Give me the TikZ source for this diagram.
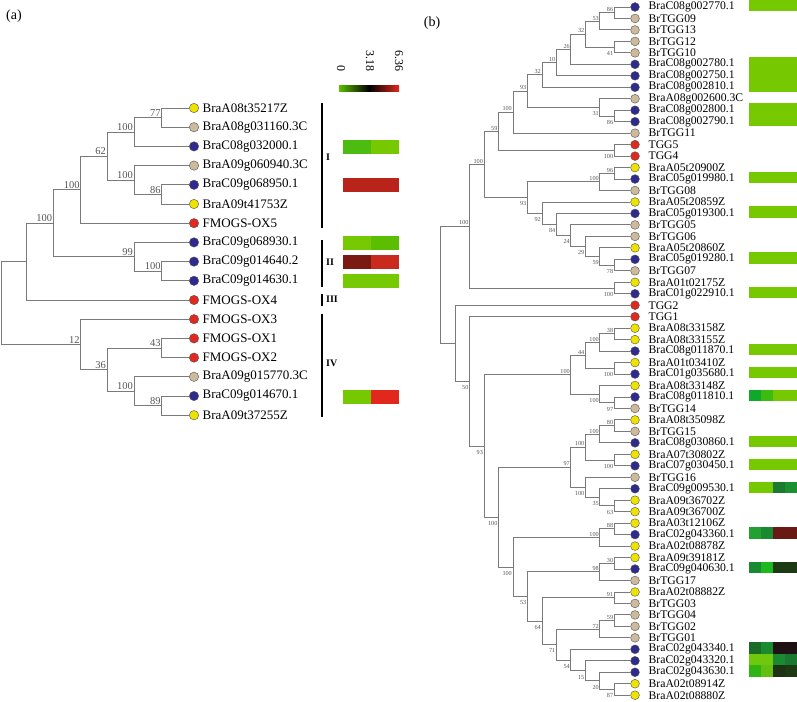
\documentclass[tikz,border=0pt]{standalone}
\usepackage{fontspec}
\setmainfont{Liberation Serif}
\usepackage{tikz}
\usetikzlibrary{shapes}
\definecolor{treegray}{HTML}{7A7A7A}
\definecolor{bootgray}{HTML}{555555}
\definecolor{dotline}{HTML}{505050}
\definecolor{dotyellow}{HTML}{EEE200}
\definecolor{dottan}{HTML}{CDBA9C}
\definecolor{dotblue}{HTML}{2E2A8E}
\definecolor{dotred}{HTML}{DF2A20}
\definecolor{hmlight}{HTML}{76C800}
\definecolor{hmmid}{HTML}{4CBC10}
\definecolor{hmlime}{HTML}{5CBE00}
\definecolor{hmred}{HTML}{E2281C}
\definecolor{hmbrick}{HTML}{B8231A}
\definecolor{hmmaroon}{HTML}{7A1A12}
\definecolor{hmscarlet}{HTML}{C82A1E}
\definecolor{hmgrass}{HTML}{10A82A}
\definecolor{hmleaf}{HTML}{3CBB10}
\definecolor{hmforest}{HTML}{1C7A30}
\definecolor{hmjade}{HTML}{1A9030}
\definecolor{hmemerald}{HTML}{22A030}
\definecolor{hmpine}{HTML}{1A8A30}
\definecolor{hmrust}{HTML}{6A1A14}
\definecolor{hmvivid}{HTML}{1CB820}
\definecolor{hmmoss}{HTML}{1E3A14}
\definecolor{hmdeep}{HTML}{1A6A28}
\definecolor{hmnight}{HTML}{201212}
\definecolor{hmspring}{HTML}{70C80C}
\definecolor{hmfern}{HTML}{1A7830}
\definecolor{hmclover}{HTML}{30B414}
\definecolor{hmapple}{HTML}{64C010}
\definecolor{hmshade}{HTML}{1E3214}
\tikzstyle{branch} = [draw=treegray, line width=0.9pt]
\tikzstyle{clade} = [draw=black, line width=1.6pt]
\tikzstyle{dotA} = [circle, draw=dotline, line width=0.4pt, inner sep=0pt, minimum size=9.4pt]
\tikzstyle{dotB} = [circle, draw=dotline, line width=0.4pt, inner sep=0pt, minimum size=8.8pt]
\tikzstyle{ylwA} = [dotA, fill=dotyellow]
\tikzstyle{tanA} = [dotA, fill=dottan]
\tikzstyle{bluA} = [dotA, fill=dotblue]
\tikzstyle{redA} = [dotA, fill=dotred]
\tikzstyle{ylwB} = [dotB, fill=dotyellow]
\tikzstyle{tanB} = [dotB, fill=dottan]
\tikzstyle{bluB} = [dotB, fill=dotblue]
\tikzstyle{redB} = [dotB, fill=dotred]
\tikzstyle{nameA} = [font=\fontsize{13}{15}\selectfont, inner sep=3.6pt]
\tikzstyle{nameB} = [font=\fontsize{11.7}{13}\selectfont, inner sep=1pt, xshift=7.8pt]
\tikzstyle{bootA} = [font=\fontsize{10.5}{12}\selectfont, text=bootgray, inner sep=1pt, anchor=south east]
\tikzstyle{bsup} = [font=\fontsize{6.2}{7}\selectfont, text=bootgray, inner sep=1pt, anchor=south east]
\tikzstyle{bsdn} = [font=\fontsize{6.2}{7}\selectfont, text=bootgray, inner sep=1pt, anchor=north east, yshift=-3pt]
\tikzstyle{cladelbl} = [font=\bfseries\fontsize{10}{12}\selectfont, inner sep=0pt, anchor=west]
\tikzstyle{scalelbl} = [font=\fontsize{12}{14}\selectfont, rotate=-90, anchor=east, inner sep=0pt]
\tikzstyle{panel} = [font=\fontsize{14}{16}\selectfont, inner sep=0pt]

\begin{document}
\begin{tikzpicture}[x=1pt, y=-1pt]
    \useasboundingbox (0,0) rectangle (797,701);
    \node [panel] (pa) at (14,16) {(a)};
    \node [panel] (pb) at (432,23) {(b)};

    % (a) leaves
    \node [ylwA, label={[nameA]right:BraA08t35217Z}] (a1) at (194,108) {};
    \node [tanA, label={[nameA]right:BraA08g031160.3C}] (a2) at (194,127.2) {};
    \node [bluA, label={[nameA]right:BraC08g032000.1}] (a3) at (194,146.4) {};
    \node [tanA, label={[nameA]right:BraA09g060940.3C}] (a4) at (194,165.6) {};
    \node [bluA, label={[nameA]right:BraC09g068950.1}] (a5) at (194,184.8) {};
    \node [ylwA, label={[nameA]right:BraA09t41753Z}] (a6) at (194,204) {};
    \node [redA, label={[nameA]right:FMOGS-OX5}] (a7) at (194,223.2) {};
    \node [bluA, label={[nameA]right:BraC09g068930.1}] (a8) at (194,242.4) {};
    \node [bluA, label={[nameA]right:BraC09g014640.2}] (a9) at (194,261.6) {};
    \node [bluA, label={[nameA]right:BraC09g014630.1}] (a10) at (194,280.8) {};
    \node [redA, label={[nameA]right:FMOGS-OX4}] (a11) at (194,300) {};
    \node [redA, label={[nameA]right:FMOGS-OX3}] (a12) at (194,319.2) {};
    \node [redA, label={[nameA]right:FMOGS-OX1}] (a13) at (194,338.4) {};
    \node [redA, label={[nameA]right:FMOGS-OX2}] (a14) at (194,357.6) {};
    \node [tanA, label={[nameA]right:BraA09g015770.3C}] (a15) at (194,376.8) {};
    \node [bluA, label={[nameA]right:BraC09g014670.1}] (a16) at (194,396) {};
    \node [ylwA, label={[nameA]right:BraA09t37255Z}] (a17) at (194,415.2) {};

    % (a) inner nodes
    \coordinate (na77) at (161.7,117.6);
    \coordinate (na100p) at (134,132);
    \coordinate (na86) at (161.7,194.4);
    \coordinate (na100q) at (134,180);
    \coordinate (na62) at (107,156);
    \coordinate (na100r) at (80.7,189.6);
    \coordinate (na100s) at (161.7,271.2);
    \coordinate (na99) at (134,256.8);
    \coordinate (na100t) at (53.3,223.2);
    \coordinate (naIn) at (26.7,261.6);
    \coordinate (na43) at (161.7,348);
    \coordinate (na89) at (161.7,405.6);
    \coordinate (na100u) at (134,391.2);
    \coordinate (na36) at (107,369.6);
    \coordinate (na12) at (80.7,344.4);
    \coordinate (naroot) at (1,303);

    \path [branch] (naroot) |- (naIn) (naroot) |- (na12);
    \path [branch] (naIn) |- (na100t) (naIn) |- (a11);
    \path [branch] (na100t) |- (na100r) (na100t) |- (na99);
    \path [branch] (na100r) |- (na62) (na100r) |- (a7);
    \path [branch] (na62) |- (na100p) (na62) |- (na100q);
    \path [branch] (na100p) |- (na77) (na100p) |- (a3);
    \path [branch] (na77) |- (a1) (na77) |- (a2);
    \path [branch] (na100q) |- (a4) (na100q) |- (na86);
    \path [branch] (na86) |- (a5) (na86) |- (a6);
    \path [branch] (na99) |- (a8) (na99) |- (na100s);
    \path [branch] (na100s) |- (a9) (na100s) |- (a10);
    \path [branch] (na12) |- (a12) (na12) |- (na36);
    \path [branch] (na36) |- (na43) (na36) |- (na100u);
    \path [branch] (na43) |- (a13) (na43) |- (a14);
    \path [branch] (na100u) |- (a15) (na100u) |- (na89);
    \path [branch] (na89) |- (a16) (na89) |- (a17);

    \node [bootA] (ta77) at (na77) {77};
    \node [bootA] (ta100p) at (na100p) {100};
    \node [bootA] (ta86) at (na86) {86};
    \node [bootA] (ta100q) at (na100q) {100};
    \node [bootA] (ta62) at (na62) {62};
    \node [bootA] (ta100r) at (na100r) {100};
    \node [bootA] (ta100s) at (na100s) {100};
    \node [bootA] (ta99) at (na99) {99};
    \node [bootA] (ta100t) at (na100t) {100};
    \node [bootA] (ta43) at (na43) {43};
    \node [bootA] (ta89) at (na89) {89};
    \node [bootA] (ta100u) at (na100u) {100};
    \node [bootA] (ta36) at (na36) {36};
    \node [bootA] (ta12) at (na12) {12};

    % (a) groups
    \draw [clade] (322,103) -- (322,228);
    \draw [clade] (322,240) -- (322,287);
    \draw [clade] (322,294) -- (322,306);
    \draw [clade] (322,314) -- (322,417);
    \node [cladelbl] (gI) at (326,157) {I};
    \node [cladelbl] (gII) at (326,262) {II};
    \node [cladelbl] (gIII) at (326,299) {III};
    \node [cladelbl] (gIV) at (326,363) {IV};

    % (a) scale and heat map
    \shade [left color=hmlime, right color=hmred, middle color=black] (339,85) rectangle (399,91);
    \node [scalelbl] (s0) at (341,72) {0};
    \node [scalelbl] (s1) at (370,72) {3.18};
    \node [scalelbl] (s2) at (399,72) {6.36};
    \fill [hmmid] (343,139.9) rectangle (371,153.9);
    \fill [hmlight] (371,139.9) rectangle (399,153.9);
    \fill [hmbrick] (343,178.3) rectangle (399,192.3);
    \fill [hmlight] (343,235.9) rectangle (371,249.9);
    \fill [hmlime] (371,235.9) rectangle (399,249.9);
    \fill [hmmaroon] (343,255.1) rectangle (371,269.1);
    \fill [hmscarlet] (371,255.1) rectangle (399,269.1);
    \fill [hmlight] (343,274.3) rectangle (399,288.3);
    \fill [hmlight] (343,389.5) rectangle (371,403.5);
    \fill [hmred] (371,389.5) rectangle (399,403.5);

    % (b) leaves
    \node [bluB, label={[nameB]right:BraC08g002770.1}] (b1) at (635,7) {};
    \node [tanB, label={[nameB]right:BrTGG09}] (b2) at (635,18.47) {};
    \node [tanB, label={[nameB]right:BrTGG13}] (b3) at (635,29.94) {};
    \node [tanB, label={[nameB]right:BrTGG12}] (b4) at (635,41.41) {};
    \node [tanB, label={[nameB]right:BrTGG10}] (b5) at (635,52.88) {};
    \node [bluB, label={[nameB]right:BraC08g002780.1}] (b6) at (635,64.35) {};
    \node [bluB, label={[nameB]right:BraC08g002750.1}] (b7) at (635,75.82) {};
    \node [bluB, label={[nameB]right:BraC08g002810.1}] (b8) at (635,87.29) {};
    \node [tanB, label={[nameB]right:BraA08g002600.3C}] (b9) at (635,98.76) {};
    \node [bluB, label={[nameB]right:BraC08g002800.1}] (b10) at (635,110.23) {};
    \node [bluB, label={[nameB]right:BraC08g002790.1}] (b11) at (635,121.7) {};
    \node [tanB, label={[nameB]right:BrTGG11}] (b12) at (635,133.17) {};
    \node [redB, label={[nameB]right:TGG5}] (b13) at (635,144.64) {};
    \node [redB, label={[nameB]right:TGG4}] (b14) at (635,156.11) {};
    \node [ylwB, label={[nameB]right:BraA05t20900Z}] (b15) at (635,167.58) {};
    \node [bluB, label={[nameB]right:BraC05g019980.1}] (b16) at (635,179.05) {};
    \node [tanB, label={[nameB]right:BrTGG08}] (b17) at (635,190.52) {};
    \node [ylwB, label={[nameB]right:BraA05t20859Z}] (b18) at (635,201.99) {};
    \node [bluB, label={[nameB]right:BraC05g019300.1}] (b19) at (635,213.46) {};
    \node [tanB, label={[nameB]right:BrTGG05}] (b20) at (635,224.93) {};
    \node [tanB, label={[nameB]right:BrTGG06}] (b21) at (635,236.4) {};
    \node [ylwB, label={[nameB]right:BraA05t20860Z}] (b22) at (635,247.87) {};
    \node [bluB, label={[nameB]right:BraC05g019280.1}] (b23) at (635,259.34) {};
    \node [tanB, label={[nameB]right:BrTGG07}] (b24) at (635,270.81) {};
    \node [ylwB, label={[nameB]right:BraA01t02175Z}] (b25) at (635,282.28) {};
    \node [bluB, label={[nameB]right:BraC01g022910.1}] (b26) at (635,293.75) {};
    \node [redB, label={[nameB]right:TGG2}] (b27) at (635,305.22) {};
    \node [redB, label={[nameB]right:TGG1}] (b28) at (635,316.69) {};
    \node [ylwB, label={[nameB]right:BraA08t33158Z}] (b29) at (635,328.16) {};
    \node [ylwB, label={[nameB]right:BraA08t33155Z}] (b30) at (635,339.63) {};
    \node [bluB, label={[nameB]right:BraC08g011870.1}] (b31) at (635,351.1) {};
    \node [ylwB, label={[nameB]right:BraA01t03410Z}] (b32) at (635,362.57) {};
    \node [bluB, label={[nameB]right:BraC01g035680.1}] (b33) at (635,374.04) {};
    \node [ylwB, label={[nameB]right:BraA08t33148Z}] (b34) at (635,385.51) {};
    \node [bluB, label={[nameB]right:BraC08g011810.1}] (b35) at (635,396.98) {};
    \node [tanB, label={[nameB]right:BrTGG14}] (b36) at (635,408.45) {};
    \node [ylwB, label={[nameB]right:BraA08t35098Z}] (b37) at (635,419.92) {};
    \node [tanB, label={[nameB]right:BrTGG15}] (b38) at (635,431.39) {};
    \node [bluB, label={[nameB]right:BraC08g030860.1}] (b39) at (635,442.86) {};
    \node [ylwB, label={[nameB]right:BraA07t30802Z}] (b40) at (635,454.33) {};
    \node [bluB, label={[nameB]right:BraC07g030450.1}] (b41) at (635,465.8) {};
    \node [tanB, label={[nameB]right:BrTGG16}] (b42) at (635,477.27) {};
    \node [bluB, label={[nameB]right:BraC09g009530.1}] (b43) at (635,488.74) {};
    \node [ylwB, label={[nameB]right:BraA09t36702Z}] (b44) at (635,500.21) {};
    \node [ylwB, label={[nameB]right:BraA09t36700Z}] (b45) at (635,511.68) {};
    \node [ylwB, label={[nameB]right:BraA03t12106Z}] (b46) at (635,523.15) {};
    \node [bluB, label={[nameB]right:BraC02g043360.1}] (b47) at (635,534.62) {};
    \node [ylwB, label={[nameB]right:BraA02t08878Z}] (b48) at (635,546.09) {};
    \node [ylwB, label={[nameB]right:BraA09t39181Z}] (b49) at (635,557.56) {};
    \node [bluB, label={[nameB]right:BraC09g040630.1}] (b50) at (635,569.03) {};
    \node [tanB, label={[nameB]right:BrTGG17}] (b51) at (635,580.5) {};
    \node [ylwB, label={[nameB]right:BraA02t08882Z}] (b52) at (635,591.97) {};
    \node [tanB, label={[nameB]right:BrTGG03}] (b53) at (635,603.44) {};
    \node [tanB, label={[nameB]right:BrTGG04}] (b54) at (635,614.91) {};
    \node [tanB, label={[nameB]right:BrTGG02}] (b55) at (635,626.38) {};
    \node [tanB, label={[nameB]right:BrTGG01}] (b56) at (635,637.85) {};
    \node [bluB, label={[nameB]right:BraC02g043340.1}] (b57) at (635,649.32) {};
    \node [bluB, label={[nameB]right:BraC02g043320.1}] (b58) at (635,660.79) {};
    \node [bluB, label={[nameB]right:BraC02g043630.1}] (b59) at (635,672.26) {};
    \node [ylwB, label={[nameB]right:BraA02t08914Z}] (b60) at (635,683.73) {};
    \node [ylwB, label={[nameB]right:BraA02t08880Z}] (b61) at (635,695.2) {};

    % (b) inner nodes
    \coordinate (nb86a) at (614.3,12.74);
    \coordinate (nb53a) at (599.9,21.34);
    \coordinate (nb41) at (614.3,47.15);
    \coordinate (nb32a) at (585.4,34.24);
    \coordinate (nb26) at (570.9,49.3);
    \coordinate (nb10) at (556.5,62.56);
    \coordinate (nb32b) at (542,74.93);
    \coordinate (nb86b) at (614.3,115.97);
    \coordinate (nb31) at (599.9,107.37);
    \coordinate (nb93a) at (527.5,91.15);
    \coordinate (nb100a) at (513,112.16);
    \coordinate (nb100b) at (614.3,150.38);
    \coordinate (nb59a) at (498.6,131.27);
    \coordinate (nb96) at (614.3,173.32);
    \coordinate (nb100c) at (599.9,181.92);
    \coordinate (nb78) at (614.3,265.08);
    \coordinate (nb59b) at (599.9,256.48);
    \coordinate (nb29) at (585.4,246.44);
    \coordinate (nb24) at (570.9,235.69);
    \coordinate (nb84) at (556.5,224.58);
    \coordinate (nb92) at (542,213.29);
    \coordinate (nb93b) at (527.5,197.61);
    \coordinate (nb100d) at (484.1,164.44);
    \coordinate (nb100e) at (614.3,288.02);
    \coordinate (nb100f) at (469.6,226.23);
    \coordinate (nb38) at (614.3,333.9);
    \coordinate (nb100g) at (599.9,342.5);
    \coordinate (nb100h) at (614.3,368.31);
    \coordinate (nb44) at (585.4,355.4);
    \coordinate (nb97a) at (614.3,402.72);
    \coordinate (nb100i) at (599.9,394.11);
    \coordinate (nb100j) at (570.9,374.76);
    \coordinate (nb80) at (614.3,425.66);
    \coordinate (nb100k) at (599.9,434.26);
    \coordinate (nb100l) at (614.3,460.07);
    \coordinate (nb100m) at (585.4,447.16);
    \coordinate (nb63) at (614.3,505.94);
    \coordinate (nb35) at (599.9,497.34);
    \coordinate (nb100n) at (585.4,487.3);
    \coordinate (nb97b) at (570.9,467.23);
    \coordinate (nb88) at (614.3,528.88);
    \coordinate (nb100o) at (599.9,537.48);
    \coordinate (nb30) at (614.3,563.3);
    \coordinate (nb98) at (599.9,571.9);
    \coordinate (nb91) at (614.3,597.7);
    \coordinate (nb59c) at (614.3,620.65);
    \coordinate (nb72) at (599.9,629.25);
    \coordinate (nb87) at (614.3,689.47);
    \coordinate (nb20) at (599.9,680.87);
    \coordinate (nb15) at (585.4,670.83);
    \coordinate (nb54) at (570.9,660.08);
    \coordinate (nb71) at (556.5,644.67);
    \coordinate (nb64) at (542,621.19);
    \coordinate (nb53b) at (527.5,596.55);
    \coordinate (nb100p) at (513,567.02);
    \coordinate (nb100q) at (498.6,517.13);
    \coordinate (nb93c) at (484.1,445.95);
    \coordinate (nb50) at (469.6,381.32);
    \coordinate (nbIn) at (455.2,343.27);
    \coordinate (nbroot) at (440.7,284.75);

    \path [branch] (nbroot) |- (nb100f) (nbroot) |- (nbIn);
    \path [branch] (nb100f) |- (nb100d) (nb100f) |- (nb100e);
    \path [branch] (nb100d) |- (nb59a) (nb100d) |- (nb93b);
    \path [branch] (nb59a) |- (nb100a) (nb59a) |- (nb100b);
    \path [branch] (nb100a) |- (nb93a) (nb100a) |- (b12);
    \path [branch] (nb93a) |- (nb32b) (nb93a) |- (nb31);
    \path [branch] (nb32b) |- (nb10) (nb32b) |- (b8);
    \path [branch] (nb10) |- (nb26) (nb10) |- (b7);
    \path [branch] (nb26) |- (nb32a) (nb26) |- (b6);
    \path [branch] (nb32a) |- (nb53a) (nb32a) |- (nb41);
    \path [branch] (nb53a) |- (nb86a) (nb53a) |- (b3);
    \path [branch] (nb86a) |- (b1) (nb86a) |- (b2);
    \path [branch] (nb41) |- (b4) (nb41) |- (b5);
    \path [branch] (nb31) |- (b9) (nb31) |- (nb86b);
    \path [branch] (nb86b) |- (b10) (nb86b) |- (b11);
    \path [branch] (nb100b) |- (b13) (nb100b) |- (b14);
    \path [branch] (nb93b) |- (nb100c) (nb93b) |- (nb92);
    \path [branch] (nb100c) |- (nb96) (nb100c) |- (b17);
    \path [branch] (nb96) |- (b15) (nb96) |- (b16);
    \path [branch] (nb92) |- (b18) (nb92) |- (nb84);
    \path [branch] (nb84) |- (b19) (nb84) |- (nb24);
    \path [branch] (nb24) |- (b20) (nb24) |- (nb29);
    \path [branch] (nb29) |- (b21) (nb29) |- (nb59b);
    \path [branch] (nb59b) |- (b22) (nb59b) |- (nb78);
    \path [branch] (nb78) |- (b23) (nb78) |- (b24);
    \path [branch] (nb100e) |- (b25) (nb100e) |- (b26);
    \path [branch] (nbIn) |- (b27) (nbIn) |- (nb50);
    \path [branch] (nb50) |- (b28) (nb50) |- (nb93c);
    \path [branch] (nb93c) |- (nb100j) (nb93c) |- (nb100q);
    \path [branch] (nb100j) |- (nb44) (nb100j) |- (nb100i);
    \path [branch] (nb44) |- (nb100g) (nb44) |- (nb100h);
    \path [branch] (nb100g) |- (nb38) (nb100g) |- (b31);
    \path [branch] (nb38) |- (b29) (nb38) |- (b30);
    \path [branch] (nb100h) |- (b32) (nb100h) |- (b33);
    \path [branch] (nb100i) |- (b34) (nb100i) |- (nb97a);
    \path [branch] (nb97a) |- (b35) (nb97a) |- (b36);
    \path [branch] (nb100q) |- (nb97b) (nb100q) |- (nb100p);
    \path [branch] (nb97b) |- (nb100m) (nb97b) |- (nb100n);
    \path [branch] (nb100m) |- (nb100k) (nb100m) |- (nb100l);
    \path [branch] (nb100k) |- (nb80) (nb100k) |- (b39);
    \path [branch] (nb80) |- (b37) (nb80) |- (b38);
    \path [branch] (nb100l) |- (b40) (nb100l) |- (b41);
    \path [branch] (nb100n) |- (b42) (nb100n) |- (nb35);
    \path [branch] (nb35) |- (b43) (nb35) |- (nb63);
    \path [branch] (nb63) |- (b44) (nb63) |- (b45);
    \path [branch] (nb100p) |- (nb100o) (nb100p) |- (nb53b);
    \path [branch] (nb100o) |- (nb88) (nb100o) |- (b48);
    \path [branch] (nb88) |- (b46) (nb88) |- (b47);
    \path [branch] (nb53b) |- (nb98) (nb53b) |- (nb64);
    \path [branch] (nb98) |- (nb30) (nb98) |- (b51);
    \path [branch] (nb30) |- (b49) (nb30) |- (b50);
    \path [branch] (nb64) |- (nb91) (nb64) |- (nb71);
    \path [branch] (nb91) |- (b52) (nb91) |- (b53);
    \path [branch] (nb71) |- (nb72) (nb71) |- (nb54);
    \path [branch] (nb72) |- (nb59c) (nb72) |- (b56);
    \path [branch] (nb59c) |- (b54) (nb59c) |- (b55);
    \path [branch] (nb54) |- (b57) (nb54) |- (nb15);
    \path [branch] (nb15) |- (b58) (nb15) |- (nb20);
    \path [branch] (nb20) |- (b59) (nb20) |- (nb87);
    \path [branch] (nb87) |- (b60) (nb87) |- (b61);

    \node [bsup] (tb86a) at (nb86a) {86};
    \node [bsup] (tb53a) at (nb53a) {53};
    \node [bsdn] (tb41) at (nb41) {41};
    \node [bsup] (tb32a) at (nb32a) {32};
    \node [bsup] (tb26) at (nb26) {26};
    \node [bsup] (tb10) at (nb10) {10};
    \node [bsup] (tb32b) at (nb32b) {32};
    \node [bsdn] (tb86b) at (nb86b) {86};
    \node [bsdn] (tb31) at (nb31) {31};
    \node [bsup] (tb93a) at (nb93a) {93};
    \node [bsup] (tb100a) at (nb100a) {100};
    \node [bsdn] (tb100b) at (nb100b) {100};
    \node [bsup] (tb59a) at (nb59a) {59};
    \node [bsup] (tb96) at (nb96) {96};
    \node [bsup] (tb100c) at (nb100c) {100};
    \node [bsdn] (tb78) at (nb78) {78};
    \node [bsdn] (tb59b) at (nb59b) {59};
    \node [bsdn] (tb29) at (nb29) {29};
    \node [bsdn] (tb24) at (nb24) {24};
    \node [bsdn] (tb84) at (nb84) {84};
    \node [bsdn] (tb92) at (nb92) {92};
    \node [bsdn] (tb93b) at (nb93b) {93};
    \node [bsup] (tb100d) at (nb100d) {100};
    \node [bsdn] (tb100e) at (nb100e) {100};
    \node [bsup] (tb100f) at (nb100f) {100};
    \node [bsup] (tb38) at (nb38) {38};
    \node [bsup] (tb100g) at (nb100g) {100};
    \node [bsdn] (tb100h) at (nb100h) {100};
    \node [bsup] (tb44) at (nb44) {44};
    \node [bsdn] (tb97a) at (nb97a) {97};
    \node [bsdn] (tb100i) at (nb100i) {100};
    \node [bsup] (tb100j) at (nb100j) {100};
    \node [bsup] (tb80) at (nb80) {80};
    \node [bsup] (tb100k) at (nb100k) {100};
    \node [bsdn] (tb100l) at (nb100l) {100};
    \node [bsup] (tb100m) at (nb100m) {100};
    \node [bsdn] (tb63) at (nb63) {63};
    \node [bsdn] (tb35) at (nb35) {35};
    \node [bsdn] (tb100n) at (nb100n) {100};
    \node [bsup] (tb97b) at (nb97b) {97};
    \node [bsup] (tb88) at (nb88) {88};
    \node [bsup] (tb100o) at (nb100o) {100};
    \node [bsup] (tb30) at (nb30) {30};
    \node [bsup] (tb98) at (nb98) {98};
    \node [bsup] (tb91) at (nb91) {91};
    \node [bsup] (tb59c) at (nb59c) {59};
    \node [bsup] (tb72) at (nb72) {72};
    \node [bsdn] (tb87) at (nb87) {87};
    \node [bsdn] (tb20) at (nb20) {20};
    \node [bsdn] (tb15) at (nb15) {15};
    \node [bsdn] (tb54) at (nb54) {54};
    \node [bsdn] (tb71) at (nb71) {71};
    \node [bsdn] (tb64) at (nb64) {64};
    \node [bsdn] (tb53b) at (nb53b) {53};
    \node [bsdn] (tb100p) at (nb100p) {100};
    \node [bsdn] (tb100q) at (nb100q) {100};
    \node [bsdn] (tb93c) at (nb93c) {93};
    \node [bsdn] (tb50) at (nb50) {50};

    % (b) heat map
    \fill [hmlight] (749,-0.2) rectangle (797,11.27);
    \fill [hmlight] (749,57.15) rectangle (797,91.56);
    \fill [hmlight] (749,103.03) rectangle (797,125.97);
    \fill [hmlight] (749,171.85) rectangle (797,183.32);
    \fill [hmlight] (749,206.26) rectangle (797,217.73);
    \fill [hmlight] (749,252.14) rectangle (797,263.61);
    \fill [hmlight] (749,286.55) rectangle (797,298.02);
    \fill [hmlight] (749,343.9) rectangle (797,355.37);
    \fill [hmlight] (749,366.84) rectangle (797,378.31);
    \fill [hmgrass] (749,389.78) rectangle (761,401.25);
    \fill [hmleaf] (761,389.78) rectangle (773,401.25);
    \fill [hmlight] (773,389.78) rectangle (797,401.25);
    \fill [hmlight] (749,435.66) rectangle (797,447.13);
    \fill [hmlight] (749,458.6) rectangle (797,470.07);
    \fill [hmlight] (749,481.54) rectangle (773,493.01);
    \fill [hmforest] (773,481.54) rectangle (785,493.01);
    \fill [hmjade] (785,481.54) rectangle (797,493.01);
    \fill [hmemerald] (749,527.42) rectangle (761,538.89);
    \fill [hmpine] (761,527.42) rectangle (773,538.89);
    \fill [hmrust] (773,527.42) rectangle (797,538.89);
    \fill [hmpine] (749,561.83) rectangle (761,573.3);
    \fill [hmvivid] (761,561.83) rectangle (773,573.3);
    \fill [hmmoss] (773,561.83) rectangle (797,573.3);
    \fill [hmdeep] (749,642.12) rectangle (761,653.59);
    \fill [hmpine] (761,642.12) rectangle (773,653.59);
    \fill [hmnight] (773,642.12) rectangle (797,653.59);
    \fill [hmspring] (749,653.59) rectangle (773,665.06);
    \fill [hmpine] (773,653.59) rectangle (785,665.06);
    \fill [hmfern] (785,653.59) rectangle (797,665.06);
    \fill [hmclover] (749,665.06) rectangle (761,676.53);
    \fill [hmapple] (761,665.06) rectangle (773,676.53);
    \fill [hmshade] (773,665.06) rectangle (785,676.53);
    \fill [hmmoss] (785,665.06) rectangle (797,676.53);
\end{tikzpicture}
\end{document}
